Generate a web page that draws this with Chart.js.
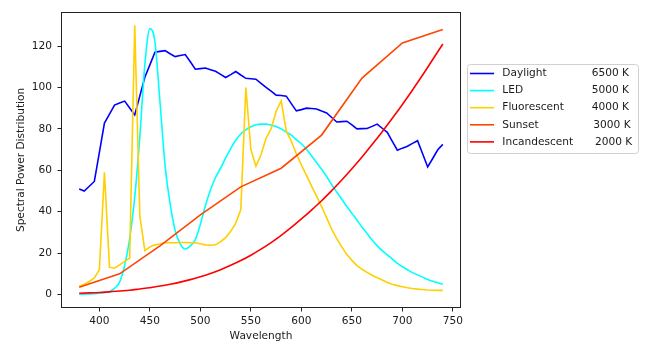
<!DOCTYPE html>
<html><head><meta charset="utf-8">
<script src="https://cdn.jsdelivr.net/npm/chart.js@4.4.1/dist/chart.umd.min.js"></script>
<style>html,body{margin:0;padding:0;background:#fff;}canvas{display:block;}</style>
</head><body>
<canvas id="c" width="646" height="346"></canvas>
<script>
// ---- data ----
const wl5 = [380,385,390,395,400,405,410,415,420,425,430,435,440,445,450,455,460,465,470,475,480,485,490,495,500,505,510,515,520,525,530,535,540,545,550,555,560,565,570,575,580,585,590,595,600,605,610,615,620,625,630,635,640,645,650,655,660,665,670,675,680,685,690,695,700,705,710,715,720,725,730,735,740];
const wl10 = [380,390,400,410,420,430,440,450,460,470,480,490,500,510,520,530,540,550,560,570,580,590,600,610,620,630,640,650,660,670,680,690,700,710,720,730,740];
const wl40 = [380,420,460,500,540,580,620,660,700,740];

const daylight = [51.0,50.0,52.3,54.6,68.7,82.8,87.1,91.5,92.5,93.4,90.1,86.7,95.8,104.9,110.9,117.0,117.4,117.8,116.3,114.9,115.4,115.9,112.4,108.8,109.1,109.4,108.6,107.8,106.3,104.8,106.2,107.7,106.0,104.4,104.2,104.0,102.0,100.0,98.2,96.3,96.1,95.8,92.2,88.7,89.3,90.0,89.8,89.6,88.6,87.7,85.5,83.3,83.5,83.7,81.9,80.0,80.1,80.2,81.2,82.3,80.3,78.3,74.0,69.7,70.7,71.6,73.0,74.3,68.0,61.6,65.7,69.9,72.5];
const led = [0.2,0.2,0.3,0.4,0.6,0.9,1.5,3.0,6.0,14,27,47,76,111,128.4,122,93,62.5,44,31,24.5,22,23.5,26.5,34,43,50.5,56.5,61,66,70.5,74.5,77.5,79.5,81,82,82.3,82.3,81.8,81.2,80,78.5,77,74.8,72.8,70.2,67,63.8,60.5,57,53,49.5,46,42.5,39.2,36,32.5,29.5,26.3,23.5,21.2,19.2,17.1,15.1,13.4,12,10.6,9.5,8.4,7.3,6.4,5.7,5];
const fluorescent = [4,5,6.3,8,12,59,13.2,12.7,14.3,16,17.5,130,38,21.2,23,24,24.4,25,25,25,25.1,25.1,25,25,24.5,24,23.8,24,25.5,27.5,30.5,34.5,41,100,70,62,67.5,75.5,80,88.5,93.5,79,74,68,62.5,57.5,52.5,47.5,42.5,37,31.5,27,23,19.3,16.5,14,12.2,10.7,9.3,8.1,7,5.8,5,4.3,3.8,3.3,2.9,2.6,2.4,2.2,2.1,2,2];
const sunset = [3.5,10,23.5,38.5,52,61,77,104.5,121.5,128];
const incandescent = [0.6,0.8,1.0,1.3,1.7,2.1,2.7,3.3,4.1,5.0,6.0,7.2,8.6,10.2,12.0,14.1,16.4,19.0,21.9,25.1,28.6,32.4,36.5,40.8,45.3,50.2,55.3,60.7,66.4,72.4,78.6,85.1,91.8,98.8,106.0,113.5,121.0];

const seriesNames = ['Daylight','LED','Fluorescent','Sunset','Incandescent'];
const temps = ['6500 K','5000 K','4000 K','3000 K','2000 K'];
const colors = ['#0000ff','#00ffff','#ffd000','#ff4500','#ff0000'];
const xTicks = [400,450,500,550,600,650,700,750];
const yTicks = [0,20,40,60,80,100,120];

function pts(xs, ys){ return xs.map((x,i)=>({x:x, y:ys[i]})); }
const seriesX = [wl5, wl5, wl5, wl40, wl10];
const seriesY = [daylight, led, fluorescent, sunset, incandescent];
const smooth = [false, true, false, false, true];

const datasets = seriesNames.map((n,i)=>({
  label: n,
  data: pts(seriesX[i], seriesY[i]),
  borderColor: colors[i],
  backgroundColor: colors[i],
  borderWidth: 1.6,
  pointRadius: 0,
  fill: false,
  tension: smooth[i] ? 0.4 : 0,
  cubicInterpolationMode: smooth[i] ? 'monotone' : 'default',
  order: 5 - i
}));

const FONT = {family: 'DejaVu Sans', size: 10.6};
const TXT = '#1a1a1a';

const framePlugin = {
  id: 'frame',
  afterDatasetsDraw(chart){
    const {ctx, chartArea: a} = chart;
    ctx.save();
    ctx.strokeStyle = '#222';
    ctx.lineWidth = 1;
    ctx.strokeRect(Math.round(a.left)+0.5, Math.round(a.top)+0.5, Math.round(a.right-a.left)-1, Math.round(a.bottom-a.top)-1);
    ctx.restore();
  }
};

const legendPlugin = {
  id: 'mplLegend',
  afterDraw(chart){
    const ctx = chart.ctx;
    ctx.save();
    const bx = 467.5, by = 64.5, bw = 171, bh = 89, r = 3;
    ctx.beginPath();
    ctx.moveTo(bx+r, by); ctx.lineTo(bx+bw-r, by); ctx.arcTo(bx+bw, by, bx+bw, by+r, r);
    ctx.lineTo(bx+bw, by+bh-r); ctx.arcTo(bx+bw, by+bh, bx+bw-r, by+bh, r);
    ctx.lineTo(bx+r, by+bh); ctx.arcTo(bx, by+bh, bx, by+bh-r, r);
    ctx.lineTo(bx, by+r); ctx.arcTo(bx, by, bx+r, by, r);
    ctx.closePath();
    ctx.fillStyle = 'rgba(255,255,255,0.8)';
    ctx.fill();
    ctx.strokeStyle = '#d0d0d0';
    ctx.lineWidth = 1;
    ctx.stroke();
    ctx.font = FONT.size + 'px "DejaVu Sans"';
    ctx.fillStyle = TXT;
    ctx.textBaseline = 'middle';
    const tempX = [591.7, 591.7, 591.7, 593.3, 595];
    seriesNames.forEach((n,i)=>{
      const y = 73.5 + i*17.1;
      ctx.strokeStyle = colors[i];
      ctx.lineWidth = 1.6;
      ctx.beginPath(); ctx.moveTo(470, y); ctx.lineTo(494, y); ctx.stroke();
      ctx.textAlign = 'left';
      ctx.fillText(n, 502.3, y);
      ctx.fillText(temps[i], tempX[i], y);
    });
    ctx.restore();
  }
};

new Chart(document.getElementById('c').getContext('2d'), {
  type: 'line',
  data: {datasets},
  options: {
    responsive: false,
    animation: false,
    devicePixelRatio: 1,
    layout: {padding: {left: 0, top: 8, right: 185, bottom: 0}},
    plugins: {legend: {display: false}, tooltip: {enabled: false}},
    scales: {
      x: {
        type: 'linear', min: 362, max: 758,
        afterFit(s){ s.height = 38; },
        afterBuildTicks(s){ s.ticks = xTicks.map(v=>({value:v})); },
        grid: {display: true, drawOnChartArea: false, drawTicks: true, tickLength: 3.5, color: '#222', lineWidth: 1},
        border: {display: false},
        ticks: {font: FONT, color: TXT, padding: 3.5, maxRotation: 0, autoSkip: false},
        title: {display: true, text: 'Wavelength', font: FONT, color: TXT, padding: {top: 0, bottom: 3.6}}
      },
      y: {
        type: 'linear', min: -6.5, max: 136.5,
        afterFit(s){ s.width = 61; },
        afterBuildTicks(s){ s.ticks = yTicks.map(v=>({value:v})); },
        grid: {display: true, drawOnChartArea: false, drawTicks: true, tickLength: 3.5, color: '#222', lineWidth: 1},
        border: {display: false},
        ticks: {font: FONT, color: TXT, padding: 5.5, autoSkip: false},
        title: {display: true, text: 'Spectral Power Distribution', font: FONT, color: TXT, padding: {top: 14.6, bottom: 0}}
      }
    }
  },
  plugins: [framePlugin, legendPlugin]
});
</script>
</body></html>
